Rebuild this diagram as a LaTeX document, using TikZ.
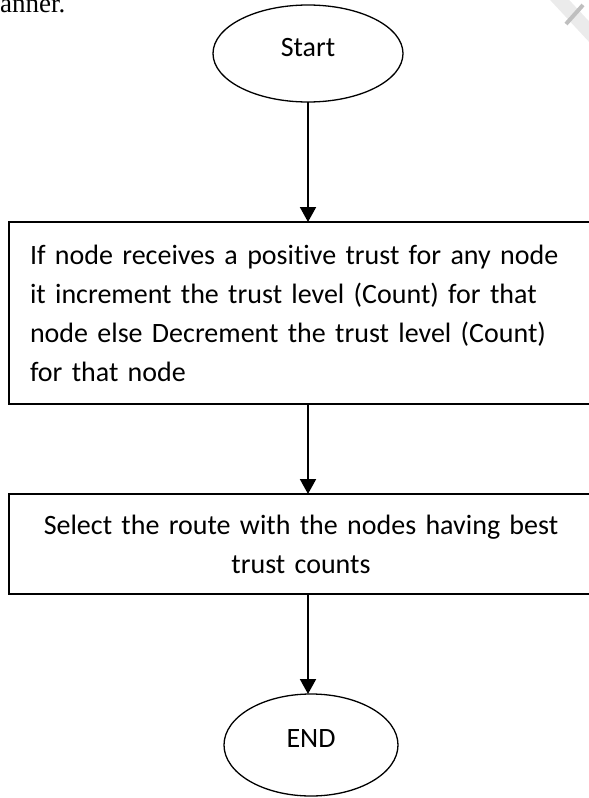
\documentclass[tikz,border=0pt]{standalone}
\usepackage{fontspec}
\setmainfont{Carlito}[RawFeature={-liga;-clig;-calt}]
\newfontfamily\bodyfont{Liberation Serif}
\usetikzlibrary{shapes.geometric,arrows.meta,positioning}

\def\boxfont{\fontsize{28}{39}\selectfont}
\def\arrowx{308}
\def\boxleft{9}

\begin{document}
\begin{tikzpicture}[x=1pt,y=-1pt,
    terminal/.style={draw,ellipse,line width=1.3pt,inner sep=0pt,outer sep=0pt,text depth=13pt,font=\boxfont},
    process/.style={draw,rectangle,line width=1.6pt,inner xsep=21pt,inner ysep=0pt,outer sep=0pt,anchor=north west,font=\boxfont},
    flow/.style={-{Triangle[width=16pt,length=15pt]},line width=2pt}]

\useasboundingbox (0,0) rectangle (589,798);

% text of the page above the chart
\node[font=\bodyfont\fontsize{27}{30}\selectfont,anchor=base west,inner sep=0pt] (prev) at (-21,12) {manner.};

% watermark in the corner
\draw[black!8,line width=14pt] (555,-5) -- (595,38);
\draw[black!25,line width=4pt] (566,24) -- (583,5);

% Terminals
\node[terminal,minimum width=190pt,minimum height=97pt] (start) at (\arrowx,53.5) {Start};
\node[terminal,minimum width=174pt,minimum height=102pt] (stop) at (311,745) {END};

% Process boxes
\node[process,text width=560pt,align=left,minimum height=182pt] (trust) at (\boxleft,222) {If node receives a positive trust for any node\\it increment the trust level (Count) for that\\node else Decrement the trust level (Count)\\for that node};
\node[process,text width=542pt,align=center,minimum height=100pt] (route) at (\boxleft,494) {Select the route with the nodes having best\\trust counts};

% Flow arrows
\draw[flow] (start.south) -- (start.south |- trust.north);
\draw[flow] (start.south |- trust.south) -- (start.south |- route.north);
\draw[flow] (start.south |- route.south) -- (start.south |- stop.north);

\end{tikzpicture}
\end{document}
